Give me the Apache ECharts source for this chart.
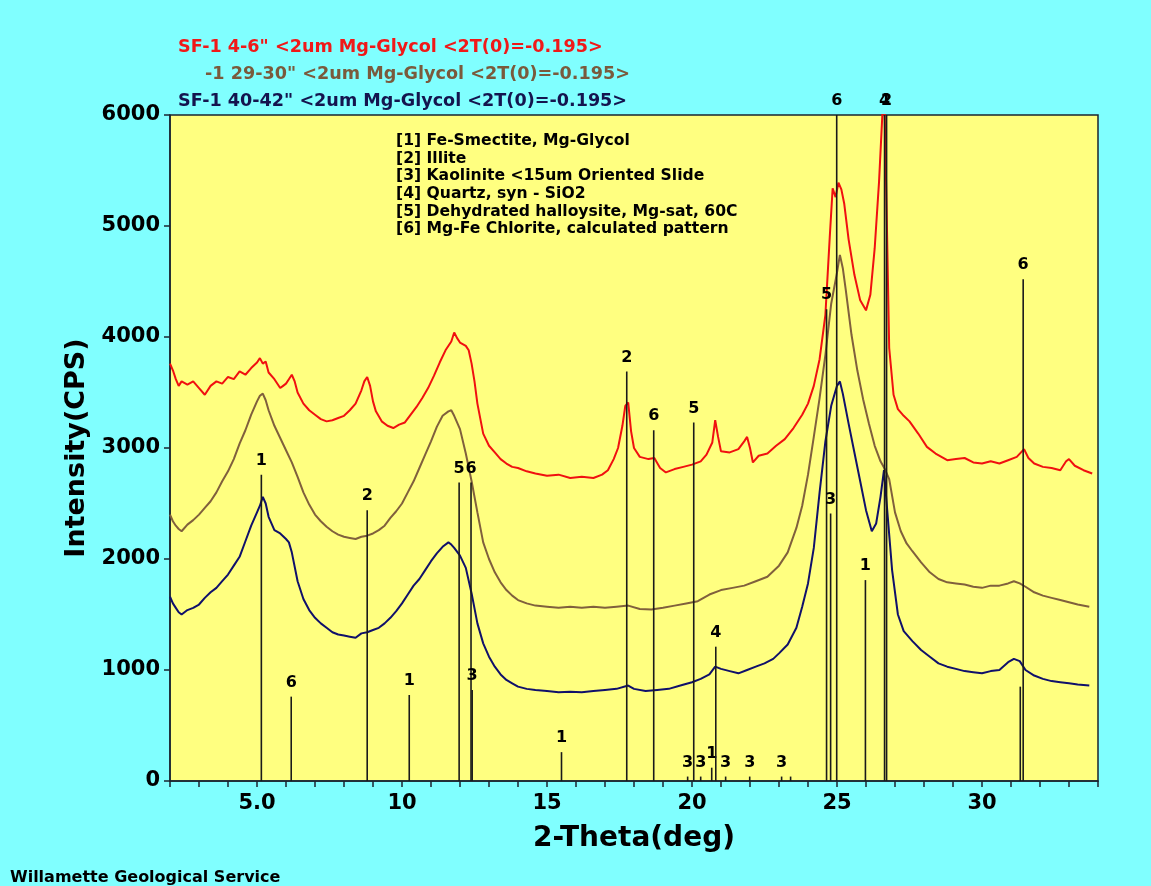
<!DOCTYPE html>
<html>
<head>
<meta charset="utf-8">
<script src="https://cdn.jsdelivr.net/npm/echarts@6/dist/echarts.min.js"></script>
<style>
  html, body { margin: 0; padding: 0; background: #80ffff; }
  #main { width: 1151px; height: 886px; }
</style>
</head>
<body>
<div id="main"></div>
<script>
var myChart = echarts.init(document.getElementById('main'));

// scan titles
var scanNames = [
  'SF-1 4-6" <2um Mg-Glycol <2T(0)=-0.195>',
  '-1 29-30" <2um Mg-Glycol <2T(0)=-0.195>',
  'SF-1 40-42" <2um Mg-Glycol <2T(0)=-0.195>'
];

// phase list
var phaseNames = [
  '[1] Fe-Smectite, Mg-Glycol',
  '[2] Illite',
  '[3] Kaolinite <15um Oriented Slide',
  '[4] Quartz, syn - SiO2',
  '[5] Dehydrated halloysite, Mg-sat, 60C',
  '[6] Mg-Fe Chlorite, calculated pattern'
];

// [2-theta, cps]
var redScan = [
  [2.0,3760],[2.1,3700],[2.2,3620],[2.3,3560],[2.4,3600],[2.6,3570],[2.8,3600],[3.0,3540],
  [3.2,3480],[3.4,3560],[3.6,3600],[3.8,3580],[4.0,3640],[4.2,3620],[4.4,3690],[4.6,3660],
  [4.8,3720],[5.0,3770],[5.1,3810],[5.2,3760],[5.3,3780],[5.4,3680],[5.6,3620],[5.8,3540],
  [5.9,3560],[6.0,3580],[6.1,3620],[6.2,3660],[6.3,3600],[6.4,3500],[6.6,3400],[6.8,3340],
  [7.0,3300],[7.2,3260],[7.4,3240],[7.6,3250],[7.8,3270],[8.0,3290],[8.2,3340],[8.4,3400],
  [8.6,3520],[8.7,3600],[8.8,3640],[8.9,3560],[9.0,3420],[9.1,3330],[9.3,3240],[9.5,3200],
  [9.7,3180],[9.9,3210],[10.1,3230],[10.3,3300],[10.5,3370],[10.7,3450],[10.9,3540],[11.1,3650],
  [11.3,3770],[11.5,3880],[11.7,3960],[11.8,4040],[11.9,3990],[12.0,3950],[12.2,3920],[12.3,3880],
  [12.4,3760],[12.5,3600],[12.6,3400],[12.8,3130],[13.0,3020],[13.2,2960],[13.4,2900],[13.6,2860],
  [13.8,2830],[14.0,2820],[14.3,2790],[14.6,2770],[15.0,2750],[15.4,2760],[15.8,2730],[16.2,2740],
  [16.6,2730],[16.9,2760],[17.1,2800],[17.3,2900],[17.45,3000],[17.6,3200],[17.7,3380],[17.8,3410],
  [17.9,3150],[18.0,3000],[18.2,2920],[18.5,2900],[18.7,2910],[18.9,2820],[19.1,2780],[19.4,2810],
  [19.7,2830],[20.0,2850],[20.3,2880],[20.5,2940],[20.7,3050],[20.8,3250],[20.9,3100],[21.0,2970],
  [21.3,2960],[21.6,2990],[21.8,3060],[21.9,3100],[22.0,3000],[22.1,2870],[22.3,2930],[22.6,2950],
  [22.9,3020],[23.2,3080],[23.5,3180],[23.8,3300],[24.0,3400],[24.2,3560],[24.4,3800],[24.6,4200],
  [24.75,4900],[24.85,5340],[24.95,5260],[25.05,5390],[25.15,5330],[25.25,5200],[25.4,4880],[25.6,4560],
  [25.8,4330],[26.0,4240],[26.15,4380],[26.3,4800],[26.45,5400],[26.62,6300],[26.7,5300],[26.8,3900],
  [26.95,3480],[27.1,3350],[27.3,3290],[27.5,3240],[27.8,3130],[28.1,3010],[28.4,2950],[28.8,2890],
  [29.1,2900],[29.4,2910],[29.7,2870],[30.0,2860],[30.3,2880],[30.6,2860],[30.9,2890],[31.2,2920],
  [31.45,2990],[31.6,2910],[31.8,2860],[32.1,2830],[32.4,2820],[32.7,2800],[32.9,2880],[33.0,2900],
  [33.2,2840],[33.5,2800],[33.8,2770]
];

var brownScan = [
  [2.0,2400],[2.1,2340],[2.2,2300],[2.3,2270],[2.4,2250],[2.6,2310],[2.8,2350],[3.0,2400],
  [3.2,2460],[3.4,2520],[3.6,2600],[3.8,2700],[4.0,2790],[4.2,2900],[4.4,3040],[4.6,3160],
  [4.8,3300],[5.0,3420],[5.1,3470],[5.2,3490],[5.3,3430],[5.4,3340],[5.6,3200],[5.8,3090],
  [6.0,2980],[6.2,2870],[6.4,2740],[6.6,2600],[6.8,2490],[7.0,2400],[7.2,2340],[7.4,2290],
  [7.6,2250],[7.8,2220],[8.0,2200],[8.2,2190],[8.4,2180],[8.6,2200],[8.8,2210],[9.0,2230],
  [9.2,2260],[9.4,2300],[9.6,2370],[9.8,2430],[10.0,2500],[10.2,2600],[10.4,2700],[10.6,2820],
  [10.8,2940],[11.0,3060],[11.2,3190],[11.4,3290],[11.6,3330],[11.7,3340],[11.8,3290],[12.0,3170],
  [12.2,2950],[12.4,2700],[12.6,2420],[12.8,2150],[13.0,2000],[13.2,1880],[13.4,1790],[13.6,1720],
  [13.8,1670],[14.0,1630],[14.3,1600],[14.6,1580],[15.0,1570],[15.4,1560],[15.8,1570],[16.2,1560],
  [16.6,1570],[17.0,1560],[17.4,1570],[17.8,1580],[18.2,1550],[18.6,1545],[19.0,1560],[19.4,1580],
  [19.8,1600],[20.2,1620],[20.6,1680],[21.0,1720],[21.4,1740],[21.8,1760],[22.2,1800],[22.6,1840],
  [23.0,1940],[23.3,2060],[23.6,2280],[23.8,2480],[24.0,2760],[24.2,3100],[24.4,3450],[24.6,3840],
  [24.8,4300],[25.0,4580],[25.1,4740],[25.2,4620],[25.3,4430],[25.5,4020],[25.7,3700],[25.9,3440],
  [26.1,3220],[26.3,3020],[26.5,2880],[26.65,2810],[26.8,2720],[27.0,2420],[27.2,2250],[27.4,2140],
  [27.6,2070],[27.9,1970],[28.2,1880],[28.5,1820],[28.8,1790],[29.1,1780],[29.4,1770],[29.7,1750],
  [30.0,1740],[30.3,1760],[30.6,1760],[30.9,1780],[31.1,1800],[31.3,1780],[31.5,1750],[31.8,1700],
  [32.1,1670],[32.4,1650],[32.7,1630],[33.0,1610],[33.3,1590],[33.7,1570]
];

var navyScan = [
  [2.0,1660],[2.1,1600],[2.2,1560],[2.3,1520],[2.4,1500],[2.6,1540],[2.8,1560],[3.0,1590],
  [3.2,1650],[3.4,1700],[3.6,1740],[3.8,1800],[4.0,1860],[4.2,1940],[4.4,2020],[4.6,2160],
  [4.8,2300],[5.0,2420],[5.1,2480],[5.2,2560],[5.3,2500],[5.4,2380],[5.6,2260],[5.8,2230],
  [6.0,2180],[6.1,2150],[6.2,2060],[6.4,1800],[6.6,1640],[6.8,1540],[7.0,1470],[7.2,1420],
  [7.4,1380],[7.6,1340],[7.8,1320],[8.0,1310],[8.2,1300],[8.4,1290],[8.6,1330],[8.8,1340],
  [9.0,1360],[9.2,1380],[9.4,1420],[9.6,1470],[9.8,1530],[10.0,1600],[10.2,1680],[10.4,1760],
  [10.6,1820],[10.8,1900],[11.0,1980],[11.2,2050],[11.4,2110],[11.6,2150],[11.7,2130],[11.8,2100],
  [12.0,2030],[12.2,1920],[12.4,1690],[12.6,1420],[12.8,1240],[13.0,1120],[13.2,1030],[13.4,960],
  [13.6,910],[13.8,880],[14.0,850],[14.3,830],[14.6,820],[15.0,810],[15.4,800],[15.8,805],
  [16.2,800],[16.6,810],[17.0,820],[17.4,830],[17.8,860],[18.0,830],[18.4,810],[18.8,820],
  [19.2,830],[19.6,860],[20.0,890],[20.3,920],[20.6,960],[20.8,1030],[21.0,1010],[21.3,990],
  [21.6,970],[21.9,1000],[22.2,1030],[22.5,1060],[22.8,1100],[23.0,1150],[23.3,1230],[23.6,1380],
  [23.8,1570],[24.0,1780],[24.2,2100],[24.4,2600],[24.6,3060],[24.8,3380],[25.0,3560],[25.1,3600],
  [25.2,3490],[25.4,3220],[25.6,2960],[25.8,2700],[26.0,2440],[26.2,2250],[26.35,2320],[26.5,2560],
  [26.62,2800],[26.75,2380],[26.9,1900],[27.1,1500],[27.3,1350],[27.6,1260],[27.9,1180],[28.2,1120],
  [28.5,1060],[28.8,1030],[29.1,1010],[29.4,990],[29.7,980],[30.0,970],[30.3,990],[30.6,1000],
  [30.9,1070],[31.1,1100],[31.3,1080],[31.5,1000],[31.8,950],[32.1,920],[32.4,900],[32.7,890],
  [33.0,880],[33.3,870],[33.7,860]
];

// reference sticks
var stickPos    = [5.15, 6.18, 8.8, 10.25, 11.97, 12.38, 12.42, 15.5, 17.75, 18.68, 19.85, 20.06, 20.3, 20.68, 20.82, 21.16, 21.99, 23.09, 23.4, 24.64, 24.78, 24.99, 25.98, 26.64, 26.71, 31.32, 31.42];
var stickHeight = [2760, 760, 2440, 775, 2690, 2690, 820, 260, 3690, 3160, 40, 3230, 40, 120, 1210, 40, 40, 40, 40, 4250, 2410, 6000, 1810, 6000, 6000, 850, 4520];
var stickLabel  = ['1', '6', '2', '1', '5', '6', '3', '1', '2', '6', '3', '5', '3', '1', '4', '3', '3', '3', '', '5', '3', '6', '1', '4', '2', '', '6'];

var sticks = stickPos.map(function (p, i) { return [p, stickHeight[i]]; });

var font = 'DejaVu Sans';

option = {
  backgroundColor: '#80ffff',
  animation: false,
  grid: {
    left: 170, right: 53, top: 115, bottom: 105,
    show: true,
    backgroundColor: '#ffff80',
    borderColor: '#1a2430',
    borderWidth: 1.5
  },
  xAxis: {
    type: 'value',
    min: 2, max: 34, interval: 1,
    name: '2-Theta(deg)',
    nameLocation: 'middle',
    nameGap: 44,
    nameTextStyle: { fontFamily: font, fontWeight: 'bold', fontSize: 28, color: '#000' },
    axisLine: { lineStyle: { color: '#1a2430', width: 1.5 } },
    axisTick: { length: 6, lineStyle: { color: '#1a2430', width: 1.5 } },
    axisLabel: {
      margin: 12,
      fontFamily: font, fontWeight: 'bold', fontSize: 21, color: '#000',
      formatter: function (v) {
        if (v % 5 !== 0) return '';
        return v === 5 ? '5.0' : String(v);
      }
    },
    splitLine: { show: false }
  },
  yAxis: {
    type: 'value',
    min: 0, max: 6000, interval: 1000,
    name: 'Intensity(CPS)',
    nameLocation: 'middle',
    nameRotate: 90,
    nameGap: 68,
    nameTextStyle: { fontFamily: font, fontWeight: 'bold', fontSize: 27, color: '#000' },
    axisLine: { show: true, lineStyle: { color: '#1a2430', width: 1.5 } },
    axisTick: { show: true, length: 6, lineStyle: { color: '#1a2430', width: 1.5 } },
    axisLabel: {
      margin: 10, fontFamily: font, fontWeight: 'bold', fontSize: 21, color: '#000',
      formatter: function (v) { return String(v); }
    },
    splitLine: { show: false }
  },
  graphic: [
    { type: 'text', left: 178, top: 38, style: { text: scanNames[0], fill: '#f01818', font: 'bold 17.6px ' + font } },
    { type: 'text', left: 205, top: 65, style: { text: scanNames[1], fill: '#7a5a3c', font: 'bold 17.6px ' + font } },
    { type: 'text', left: 178, top: 92, style: { text: scanNames[2], fill: '#14144e', font: 'bold 17.6px ' + font } },
    { type: 'text', left: 396, top: 132, style: { text: phaseNames.join('\n'), fill: '#000', font: 'bold 15.6px ' + font, lineHeight: 17.7 } },
    { type: 'text', left: 10, top: 870, style: { text: 'Willamette Geological Service', fill: '#000', font: 'bold 16px ' + font } }
  ],
  series: [
    { name: scanNames[0], type: 'line', data: redScan, showSymbol: false, lineStyle: { color: '#f01010', width: 2 }, z: 2 },
    { name: scanNames[1], type: 'line', data: brownScan, showSymbol: false, lineStyle: { color: '#80603c', width: 2 }, z: 2 },
    { name: scanNames[2], type: 'line', data: navyScan, showSymbol: false, lineStyle: { color: '#10106a', width: 2 }, z: 2 },
    {
      type: 'custom',
      clip: false,
      z: 3,
      data: sticks,
      renderItem: function (params, api) {
        var base = api.coord([api.value(0), 0]);
        var top = api.coord([api.value(0), api.value(1)]);
        return {
          type: 'group',
          children: [
            { type: 'line', shape: { x1: base[0], y1: base[1], x2: top[0], y2: top[1] }, style: { stroke: '#1a1a1a', lineWidth: 1.6 } },
            { type: 'text', style: { text: stickLabel[params.dataIndex], x: top[0], y: top[1] - 6, align: 'center', verticalAlign: 'bottom', fill: '#000', font: 'bold 16px ' + font } }
          ]
        };
      }
    }
  ]
};

myChart.setOption(option);
</script>
</body>
</html>
